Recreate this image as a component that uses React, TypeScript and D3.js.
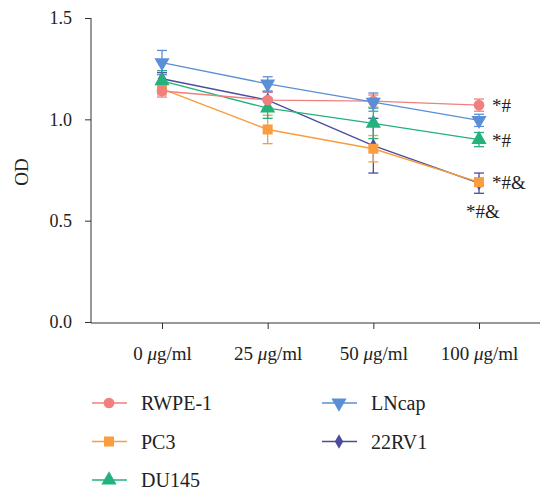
import * as d3 from "d3";
import { useEffect, useRef } from "react";

// ---- data ----
const doses = ["0", "25", "50", "100"];
const seriesNames = ["RWPE-1", "PC3", "DU145", "LNcap", "22RV1"];
const rwpe1 = [1.14, 1.095, 1.09, 1.07];
const rwpe1Err = [0.03, 0.04, 0.03, 0.03];
const pc3 = [1.15, 0.95, 0.855, 0.69];
const pc3Err = [0.03, 0.07, 0.065, 0.02];
const du145 = [1.19, 1.055, 0.98, 0.9];
const du145Err = [0.05, 0.05, 0.075, 0.035];
const lncap = [1.28, 1.175, 1.085, 0.995];
const lncapErr = [0.06, 0.035, 0.045, 0.03];
const rv22 = [1.2, 1.095, 0.87, 0.685];
const rv22Err = [0.03, 0.04, 0.135, 0.05];
const yTicks = [0, 0.5, 1.0, 1.5];
const annotations = [
  { text: "*#", dose: "100", value: 1.07 },
  { text: "*#", dose: "100", value: 0.9 },
  { text: "*#&", dose: "100", value: 0.69 },
  { text: "*#&", dose: "100", value: 0.55 },
];

const colors = ["#f07f7d", "#f99d3f", "#23b27b", "#5b8fd5", "#4b4b9f"];
const shapes = [d3.symbolCircle, d3.symbolSquare, d3.symbolTriangle, d3.symbolTriangle, d3.symbolDiamond];
const drawOrder = [4, 1, 2, 0, 3];

export default function App() {
  const ref = useRef<SVGSVGElement>(null);

  useEffect(() => {
    const width = 546;
    const height = 502;
    const svg = d3.select(ref.current);
    svg.selectAll("*").remove();
    svg.attr("viewBox", `0 0 ${width} ${height}`);

    const font = "Liberation Serif, DejaVu Serif, serif";
    const values = [rwpe1, pc3, du145, lncap, rv22];
    const errs = [rwpe1Err, pc3Err, du145Err, lncapErr, rv22Err];

    const x = d3.scalePoint<string>().domain(doses).range([162, 479]);
    const y = d3.scaleLinear().domain([0, 1.5]).range([322, 18]);

    // ---- axes ----
    const ay = svg.append("g").attr("transform", "translate(91,0)").call(d3.axisLeft(y).tickValues(yTicks).tickFormat(d3.format(".1f")).tickSize(6).tickSizeOuter(0));
    ay.select(".domain").attr("stroke", "#333").attr("d", "M0,18V323");
    ay.selectAll("line").attr("stroke", "#333");
    ay.selectAll("text").style("font-family", font).style("font-size", "18px").attr("fill", "#222").attr("dx", -10);

    svg.append("line").attr("x1", 91).attr("x2", 540).attr("y1", 323).attr("y2", 323).attr("stroke", "#333");
    const ax = svg.append("g").attr("transform", "translate(0,323)").call(d3.axisBottom(x).tickSize(6).tickFormat(() => ""));
    ax.select(".domain").remove();
    ax.selectAll("line").attr("stroke", "#333");
    ax.selectAll(".tick").append("text")
      .attr("y", 37)
      .attr("text-anchor", "middle")
      .style("font-family", font)
      .style("font-size", "19px")
      .attr("fill", "#222")
      .each(function (d) {
        const t = d3.select(this);
        t.append("tspan").text(`${d} `);
        t.append("tspan").attr("font-style", "italic").text("μ");
        t.append("tspan").text("g/ml");
      });

    svg.append("text")
      .attr("transform", "translate(28,172) rotate(-90)")
      .attr("text-anchor", "middle")
      .style("font-family", font)
      .style("font-size", "19px")
      .attr("fill", "#222")
      .text("OD");

    // ---- series ----
    const line = d3.line<number>().x((_, i) => x(doses[i])!).y((d) => y(d));
    const symbolSize = [90, 100, 100, 100, 60];

    drawOrder.forEach((s) => {
      const vals = values[s];
      const g = svg.append("g");
      const c = colors[s];
      vals.forEach((v, i) => {
        const cx = x(doses[i])!;
        const e = errs[s][i];
        g.append("line").attr("x1", cx).attr("x2", cx).attr("y1", y(v - e)).attr("y2", y(v + e)).attr("stroke", c).attr("stroke-width", 1.3);
        [v - e, v + e].forEach((w) => {
          g.append("line").attr("x1", cx - 5).attr("x2", cx + 5).attr("y1", y(w)).attr("y2", y(w)).attr("stroke", c).attr("stroke-width", 1.3);
        });
      });
      g.append("path").attr("d", line(vals)).attr("fill", "none").attr("stroke", c).attr("stroke-width", 1.4);
    });

    drawOrder.forEach((s) => {
      const sym = d3.symbol().type(shapes[s]).size(symbolSize[s]);
      svg.append("g").selectAll("path").data(values[s]).join("path")
        .attr("transform", (d, i) => `translate(${x(doses[i])},${y(d)})${s === 3 ? " rotate(180)" : ""}`)
        .attr("d", sym()!)
        .attr("fill", colors[s]);
    });

    // ---- annotations ----
    svg.append("g").selectAll("text").data(annotations).join("text")
      .attr("x", (d, i) => x(d.dose)! + (i === 3 ? -13 : 13))
      .attr("y", (d) => y(d.value) + 7)
      .style("font-family", font)
      .style("font-size", "19px")
      .attr("fill", "#222")
      .text((d) => d.text);

    // ---- legend ----
    const legend = svg.append("g");
    seriesNames.forEach((name, s) => {
      const col = s < 3 ? 0 : 1;
      const row = s < 3 ? s : s - 3;
      const lx = col === 0 ? 92 : 322;
      const ly = 403 + row * 38.5;
      legend.append("line").attr("x1", lx).attr("x2", lx + 35).attr("y1", ly).attr("y2", ly).attr("stroke", colors[s]).attr("stroke-width", 1.4);
      legend.append("path")
        .attr("transform", `translate(${lx + 17},${ly})${s === 3 ? " rotate(180)" : ""}`)
        .attr("d", d3.symbol().type(shapes[s]).size(symbolSize[s])()!)
        .attr("fill", colors[s]);
      legend.append("text")
        .attr("x", lx + 49)
        .attr("y", ly + 7)
        .style("font-family", font)
        .style("font-size", "20px")
        .attr("fill", "#222")
        .text(name);
    });
  }, []);

  return (
    <svg
      ref={ref}
      width={546}
      height={502}
      style={{ position: "absolute", left: 0, top: 0, background: "#fff" }}
    />
  );
}
